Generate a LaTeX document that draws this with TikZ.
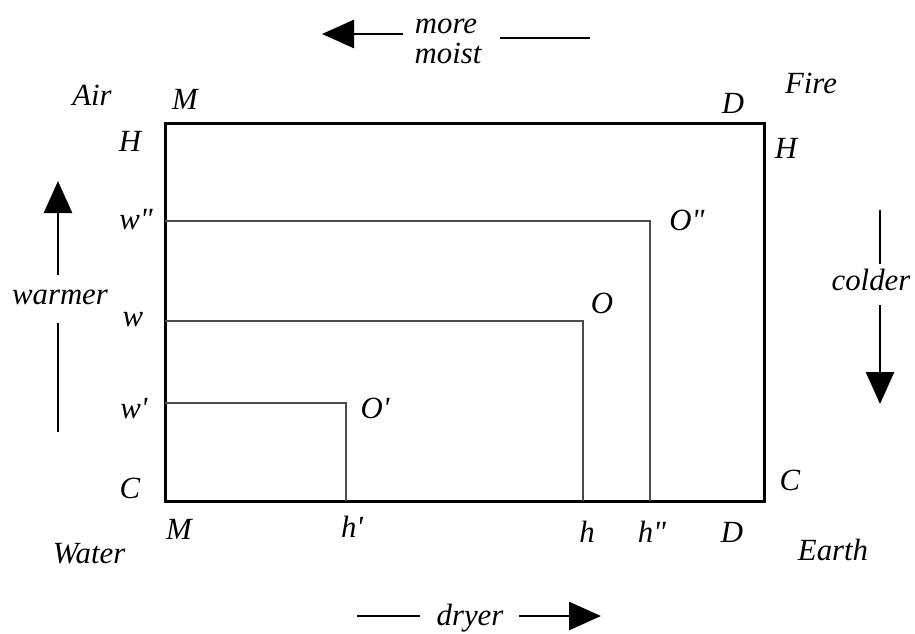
\documentclass[tikz,border=0pt]{standalone}
\usepackage{fontspec}
\setmainfont{Liberation Serif}[ItalicFont={Liberation Serif Italic}, Ligatures=TeXOff]
\usetikzlibrary{arrows.meta}

\tikzset{
  lbl/.style={font=\fontsize{15.4}{18}\selectfont\itshape, inner sep=0pt, anchor=base},
  frame/.style={line width=1.5pt},
  level/.style={line width=0.6pt, black!70},
  dirline/.style={line width=1.3pt},
  dirarrow/.style={dirline, -{Triangle[length=16pt,width=14pt]}}
}

\begin{document}
\begin{tikzpicture}[x=0.5pt,y=-0.5pt]
  \useasboundingbox (0,0) rectangle (915,633);

  % square of the qualities
  \coordinate (MH) at (165,123);
  \coordinate (DC) at (764,501);
  \draw[frame] (MH) rectangle (DC);

  \coordinate (wpp) at (165,221);
  \coordinate (hpp) at (650,501);
  \coordinate (wmid) at (165,321);
  \coordinate (hmid) at (583,501);
  \coordinate (wp) at (165,403);
  \coordinate (hp) at (346,501);
  \draw[level] (wpp) -| (hpp);
  \draw[level] (wmid) -| (hmid);
  \draw[level] (wp) -| (hp);

  % corner elements and edge letters
  \node[lbl] (air)   at (92,105)  {Air};
  \node[lbl] (fire)  at (811,93)  {Fire};
  \node[lbl] (water) at (89,563)  {Water};
  \node[lbl] (earth) at (833,560) {Earth};
  \node[lbl] (Mtop)  at (185,109) {M};
  \node[lbl] (Dtop)  at (733,113) {D};
  \node[lbl] (Hleft) at (130,151) {H};
  \node[lbl] (Hright) at (786,158) {H};
  \node[lbl] (Cleft) at (130,498) {C};
  \node[lbl] (Cright) at (790,490) {C};
  \node[lbl] (Mbot)  at (179,539) {M};
  \node[lbl] (Dbot)  at (732,542) {D};

  % levels on the axes
  \node[lbl] (wpplbl) at (136,229) {w"};
  \node[lbl] (wlbl)   at (133,326) {w};
  \node[lbl] (wplbl)  at (134,418) {w'};
  \node[lbl] (hplbl)  at (352,537) {h'};
  \node[lbl] (hlbl)   at (587,542) {h};
  \node[lbl] (hpplbl) at (652,542) {h"};
  \node[lbl] (Opp)    at (687,230) {O"};
  \node[lbl] (Omid)   at (602,313) {O};
  \node[lbl] (Op)     at (375,418) {O'};

  % direction arrows
  \node[lbl] (more)  at (446,33) {more};
  \node[lbl] (moist) at (448,63) {moist};
  \coordinate (moistA) at (403,34);
  \coordinate (moistB) at (322,34);
  \coordinate (moistC) at (500,38);
  \coordinate (moistD) at (590,38);
  \draw[dirarrow] (moistA) -- (moistB);
  \draw[dirline] (moistC) -- (moistD);

  \node[lbl] (warmer) at (60,304) {warmer};
  \coordinate (warmA) at (58,275);
  \coordinate (warmB) at (58,181);
  \coordinate (warmC) at (58,323);
  \coordinate (warmD) at (58,432);
  \draw[dirarrow] (warmA) -- (warmB);
  \draw[dirline] (warmC) -- (warmD);

  \node[lbl] (colder) at (871,290) {colder};
  \coordinate (coldA) at (880,210);
  \coordinate (coldB) at (880,264);
  \coordinate (coldC) at (880,305);
  \coordinate (coldD) at (880,404);
  \draw[dirline] (coldA) -- (coldB);
  \draw[dirarrow] (coldC) -- (coldD);

  \node[lbl] (dryer) at (470,625) {dryer};
  \coordinate (dryA) at (357,616);
  \coordinate (dryB) at (420,616);
  \coordinate (dryC) at (519,616);
  \coordinate (dryD) at (601,616);
  \draw[dirline] (dryA) -- (dryB);
  \draw[dirarrow] (dryC) -- (dryD);
\end{tikzpicture}
\end{document}
